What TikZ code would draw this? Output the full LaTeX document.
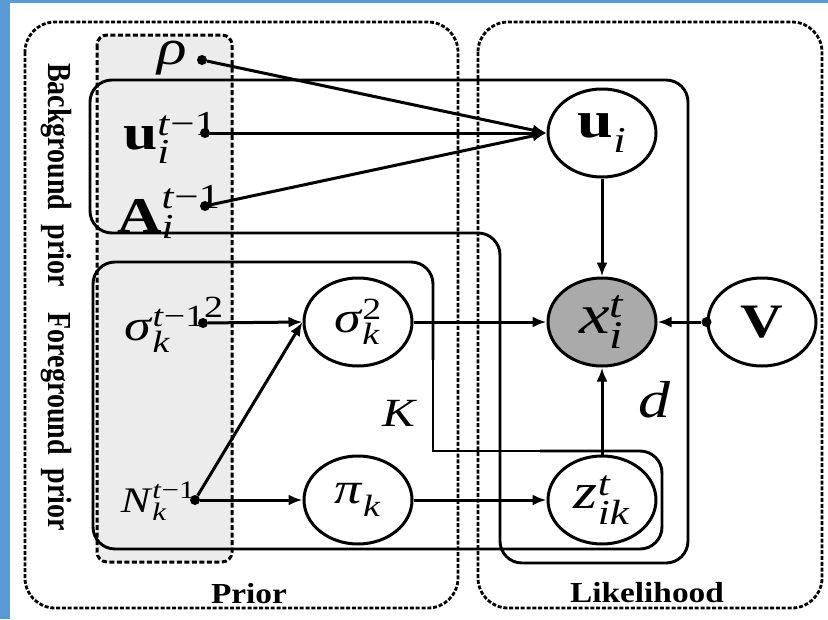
\documentclass[tikz,border=0pt]{standalone}
\usepackage{fontspec}
\usepackage{amsmath}
\setmainfont{Liberation Serif}
\usetikzlibrary{shapes.geometric,arrows.meta}
\definecolor{frameblue}{RGB}{91,155,213}
\definecolor{priorgray}{RGB}{236,236,236}
\definecolor{obsgray}{RGB}{170,170,170}
\newcommand{\hs}[1]{\scalebox{1.23}[1]{#1}}
\newcommand{\hsb}[1]{\scalebox{1.15}[1]{#1}}
\newcommand{\vs}[1]{\scalebox{1}[1.2]{#1}}
\newcommand{\mti}[1]{\text{\textit{#1}}}
\newcommand{\mtb}[1]{\text{\textbf{#1}}}
\newcommand{\mtr}[1]{\text{#1}}
\begin{document}
\begin{tikzpicture}[x=1pt,y=-1pt,
  rv/.style={ellipse, draw, line width=3pt, minimum width=108pt, minimum height=88pt, inner sep=0pt, fill=white, font=\fontsize{44}{48}\selectfont},
  obs/.style={rv, fill=obsgray},
  hyp/.style={inner sep=0pt, font=\fontsize{50}{52}\selectfont},
  dotnode/.style={circle, fill, inner sep=0pt, minimum size=10pt},
  conn/.style={line width=3pt, -{Latex[length=14pt,width=11pt]}},
  plate/.style={line width=2.9pt, rounded corners=22pt},
  groupbox/.style={line width=2.8pt, dash pattern=on 4pt off 1.8pt, rounded corners=30pt},
  grouptitle/.style={inner sep=0pt, font=\fontsize{29}{31}\selectfont\bfseries}
]
\useasboundingbox (0,0) rectangle (828,619);
\fill[white] (0,0) rectangle (828,619);
\fill[frameblue] (0,0) rectangle (10,619);
\fill[frameblue] (0,0) rectangle (828,3);

% group boxes
\draw[groupbox] (25,22) rectangle (458,608);
\draw[groupbox] (478,22) rectangle (822,608);
\draw[fill=priorgray, line width=3pt, dash pattern=on 5pt off 2.5pt, rounded corners=10pt] (97,35) rectangle (232,562);

% plates
\draw[plate] (500,400) -- (500,563) -- (688,563) -- (688,80) -- (90,80) -- (90,233) -- (500,233) -- cycle;
\draw[plate] (433,360) -- (433,262) -- (93,262) -- (93,549) -- (662,549) -- (662,451) -- (540,451);
\draw[line width=2.9pt] (540,451) -- (433,451) -- (433,360);

% labels
\node[grouptitle] (priorlbl) at (249,594) {\hsb{Prior}};
\node[grouptitle] (likelbl) at (647,593) {\hsb{Likelihood}};
\node[grouptitle, font=\fontsize{28}{30}\selectfont\bfseries, rotate=-90] (bglbl) at (56,175) {\vs{Background\ \ prior}};
\node[grouptitle, font=\fontsize{28}{30}\selectfont\bfseries, rotate=-90] (fglbl) at (56,422) {\vs{Foreground\ \ prior}};
\node[inner sep=0pt, font=\fontsize{40}{42}\selectfont] (Klbl) at (400,413) {\hs{$\mti{K}$}};
\node[inner sep=0pt, font=\fontsize{52}{54}\selectfont] (dlbl) at (655,400) {\hs{$\mti{d}$}};

% hyperparameters
\node[hyp] (rhoT) at (172,58) {\hs{$\mti{ρ}$}};
\node[hyp] (uprevT) at (170,138) {\hs{$\mtb{u}^{\mti{t}\mtr{−1}}_{\mti{i}}$}};
\node[hyp] (AprevT) at (169,212) {\hs{$\mtb{A}^{\mti{t}\mtr{−1}}_{\mti{i}}$}};
\node[hyp, font=\fontsize{44}{46}\selectfont] (sprevT) at (174,325) {\hs{$\mti{σ}^{\mti{t}\mtr{−1}\text{\raisebox{0.3em}{2}}}_{\mti{k}}$}};
\node[hyp, font=\fontsize{36}{38}\selectfont] (NprevT) at (158,501) {\hs{$\mti{N}^{\mti{t}\mtr{−1}}_{\mti{k}}$}};

\node[dotnode] (rho) at (202,60) {};
\node[dotnode] (uprev) at (205,133) {};
\node[dotnode] (Aprev) at (205,206) {};
\node[dotnode] (sprev) at (203,323) {};
\node[dotnode] (Nprev) at (195,500) {};

% variables
\node[rv, font=\fontsize{52}{54}\selectfont] (u) at (602,133) {\hs{$\mtb{u}_{\mti{i}}$}};
\node[obs, font=\fontsize{56}{58}\selectfont] (x) at (602,322) {\hs{$\mti{x}^{\mti{t}}_{\mti{i}}$}};
\node[rv, font=\fontsize{48}{50}\selectfont] (v) at (762,322) {\hs{\textbf{V}}};
\node[rv] (sig) at (358,322) {\hs{$\mti{σ}^{\mtr{2}}_{\mti{k}}$}};
\node[rv] (pi) at (358,500) {\hs{$\mti{π}_{\mti{k}}$}};
\node[rv, font=\fontsize{50}{52}\selectfont] (z) at (602,500) {\hs{$\mti{z}^{\mti{t}}_{\mti{ik}}$}};
\node[dotnode] (vdot) at (v.west) {};

% connectors
\draw[conn] (rho) -- (u.west);
\draw[conn] (uprev) -- (u.west);
\draw[conn] (Aprev) -- (u.west);
\draw[conn] (u) -- (x);
\draw[conn] (sprev) -- (sig.west);
\draw[conn] (Nprev) -- (sig.west);
\draw[conn] (Nprev) -- (pi.west);
\draw[conn] (sig) -- (x.west);
\draw[conn] (pi) -- (z.west);
\draw[conn] (z) -- (x);
\draw[conn] (vdot) -- (x.east);
\end{tikzpicture}
\end{document}
